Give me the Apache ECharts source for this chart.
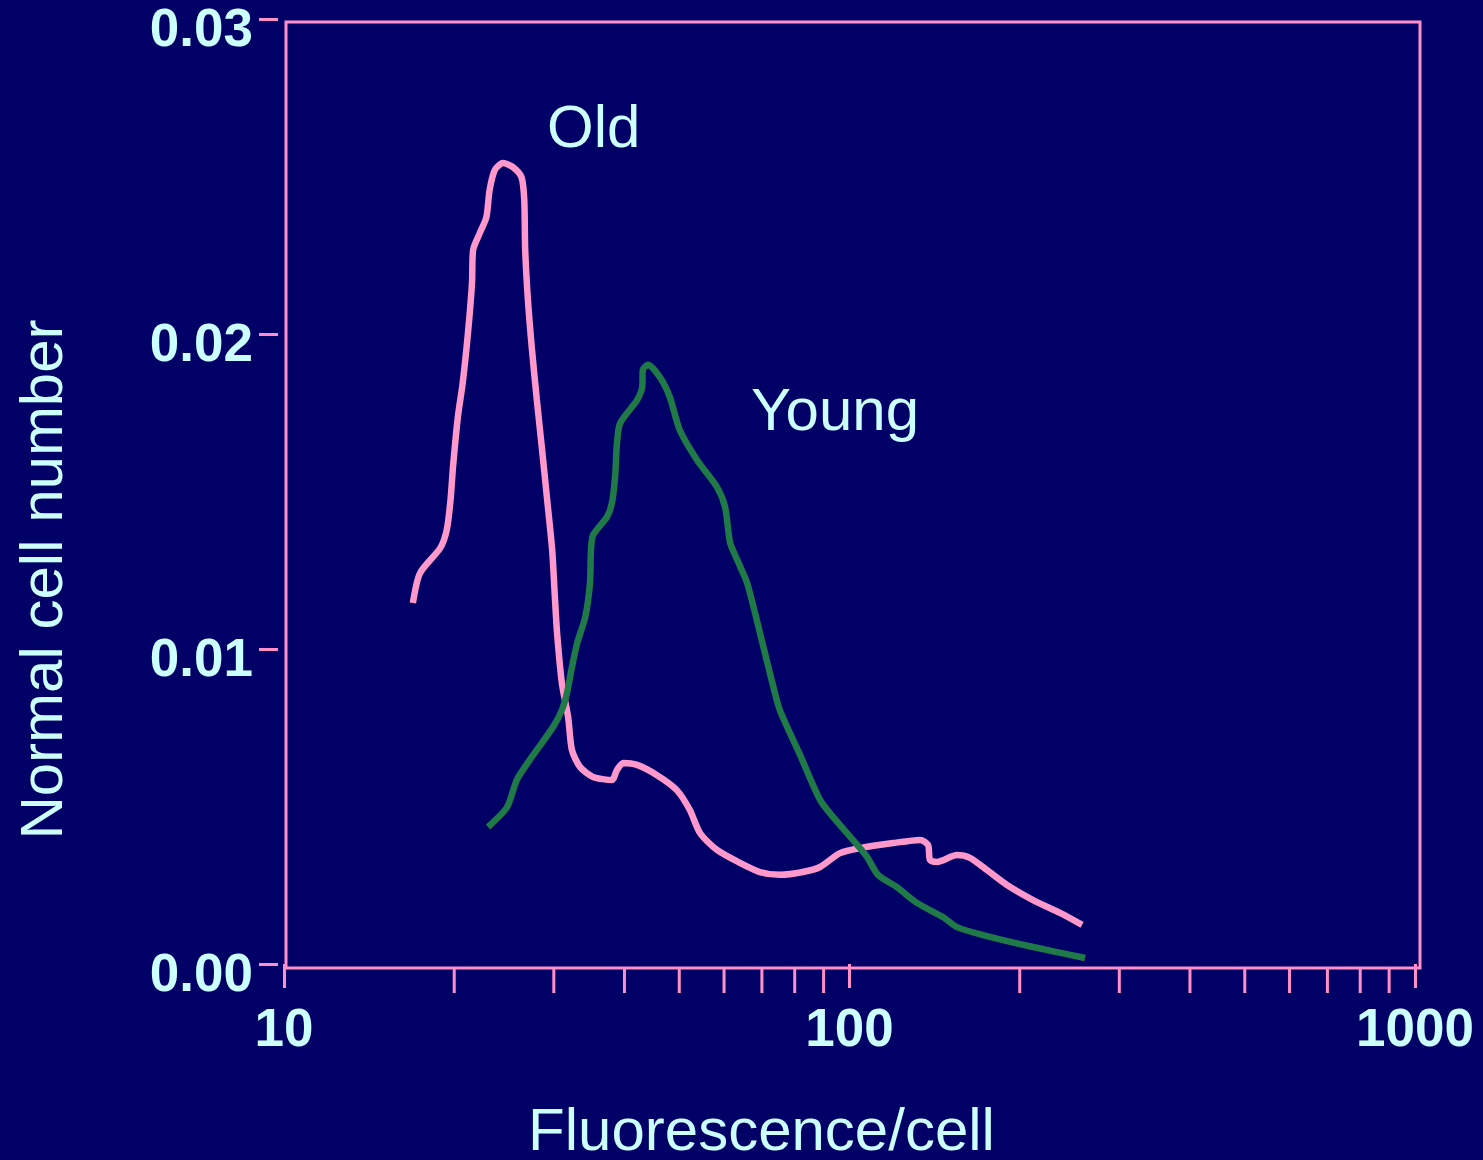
<!DOCTYPE html>
<html>
<head>
<meta charset="utf-8">
<script src="https://cdn.jsdelivr.net/npm/echarts@6/dist/echarts.min.js"></script>
<style>
  html, body { margin: 0; padding: 0; background: #000066; }
  #chart { width: 1483px; height: 1160px; }
</style>
</head>
<body>
<div id="chart"></div>
<script>
// Fluorescence/cell (log) vs normal cell number
const oldCurve = [
  [16.9, 0.01146], [17.4, 0.01241], [18.9, 0.01321], [19.4, 0.01378], [19.7, 0.01473],
  [19.9, 0.01578], [20.3, 0.01737], [20.7, 0.01844], [21.15, 0.02003], [21.5, 0.02162],
  [21.6, 0.02267], [22.2, 0.02321], [22.8, 0.02371], [23.1, 0.02457], [23.6, 0.02521],
  [24.4, 0.02543], [25.4, 0.0253], [26.3, 0.02498], [26.6, 0.02425], [26.7, 0.02267],
  [27.0, 0.02108], [27.45, 0.01949], [28.0, 0.0179], [28.6, 0.01632], [29.2, 0.01473],
  [29.8, 0.01314], [30.15, 0.01156], [30.4, 0.01051], [31.0, 0.00892], [31.8, 0.00784],
  [32.3, 0.00679], [33.4, 0.00625], [35.2, 0.00594], [38.0, 0.00584], [38.8, 0.00616],
  [39.8, 0.00638], [42.1, 0.00632], [45.6, 0.006], [49.5, 0.00552], [52.2, 0.00489],
  [54.4, 0.00416], [58.3, 0.00362], [64.0, 0.00321], [69.4, 0.00292], [75.3, 0.00283],
  [82.7, 0.00292], [88.7, 0.00308], [96.2, 0.00352], [104.4, 0.00368], [119.4, 0.00384],
  [133.3, 0.00394], [137.7, 0.00378], [138.8, 0.0033], [142.8, 0.00324], [154.9, 0.00346],
  [163.3, 0.00337], [175.1, 0.00298], [189.9, 0.00251], [211.2, 0.00203], [235.7, 0.00162],
  [257.8, 0.00124]
];
const youngCurve = [
  [22.95, 0.00435], [24.8, 0.00498], [25.8, 0.00584], [27.2, 0.00648], [29.9, 0.00752],
  [31.0, 0.00806], [31.65, 0.0086], [32.3, 0.00943], [33.0, 0.01019], [34.1, 0.01102],
  [34.76, 0.0121], [34.9, 0.01314], [35.2, 0.01362], [37.25, 0.01419], [38.0, 0.01463],
  [38.5, 0.01546], [38.8, 0.01654], [39.3, 0.01717], [42.1, 0.0179], [43.0, 0.01832],
  [43.1, 0.01886], [44.0, 0.01902], [46.2, 0.01863], [48.1, 0.018], [50.1, 0.01695],
  [53.75, 0.016], [58.3, 0.01514], [60.25, 0.01451], [61.5, 0.01337], [63.3, 0.01283],
  [65.9, 0.0121], [69.45, 0.01051], [72.3, 0.00924], [73.2, 0.00886], [75.3, 0.00806],
  [81.8, 0.00663], [88.7, 0.00521], [93.5, 0.00467], [101.4, 0.00394], [107.4, 0.0034],
  [112.3, 0.00283], [121.3, 0.00244], [131.6, 0.00194], [146.3, 0.00149], [154.9, 0.00117],
  [172.2, 0.00092], [211.2, 0.00054], [260.9, 0.00019]
];
const minorTicks = [20, 30, 40, 50, 60, 70, 80, 90, 200, 300, 400, 500, 600, 700, 800, 900];
const yTicks = [0, 0.01, 0.02, 0.03];

const bg = '#000066';
const txt = '#ccffff';
const pink = '#ff99cc';
const frame = '#ff8fc8';
const green = '#1f7a47';
const font = '"Liberation Sans", Arial, sans-serif';

const myChart = echarts.init(document.getElementById('chart'));

const option = {
  backgroundColor: bg,
  animation: false,
  grid: { left: 284, right: 68, top: 19, bottom: 196, outerBoundsMode: 'none' },
  graphic: [
    {
      // slide frame round the plot
      type: 'rect',
      shape: { x: 286, y: 22, width: 1134, height: 946 },
      style: { fill: 'transparent', stroke: frame, lineWidth: 3 },
      z: 1
    }
  ],
  xAxis: {
    type: 'log',
    logBase: 10,
    min: 10,
    max: 1000,
    offset: 5,
    axisLine: { show: false },
    axisTick: { show: true, length: 24, lineStyle: { color: frame, width: 3 } },
    splitLine: { show: false },
    axisLabel: {
      color: txt, fontFamily: font, fontWeight: 'bold', fontSize: 53, margin: 36,
      formatter: v => String(Math.round(v))
    },
    name: 'Fluorescence/cell',
    nameLocation: 'middle',
    nameGap: 134,
    nameTextStyle: { color: txt, fontFamily: font, fontSize: 60, padding: [0, 176, 0, 0] }
  },
  yAxis: {
    type: 'value',
    min: yTicks[0],
    max: yTicks[yTicks.length - 1],
    interval: 0.01,
    offset: 6,
    axisLine: { show: false },
    axisTick: { show: true, length: 19, lineStyle: { color: frame, width: 3 } },
    splitLine: { show: false },
    axisLabel: {
      color: txt, fontFamily: font, fontWeight: 'bold', fontSize: 53, margin: 25,
      verticalAlign: 'top', lineHeight: 24,
      formatter: v => v.toFixed(2)
    },
    name: 'Normal cell number',
    nameLocation: 'middle',
    nameGap: 203,
    nameTextStyle: { color: txt, fontFamily: font, fontSize: 60, padding: [0, 176, 0, 0] }
  },
  series: [
    {
      name: 'Old',
      type: 'line',
      data: oldCurve,
      smooth: 0.25,
      showSymbol: false,
      lineStyle: { color: pink, width: 6.5 },
      z: 3,
      markPoint: {
        symbol: 'circle',
        symbolSize: 0,
        label: { show: true, position: 'inside', color: txt, fontFamily: font, fontSize: 60, formatter: 'Old' },
        data: [{ coord: [35.3, 0.02646] }]
      }
    },
    {
      name: 'Young',
      type: 'line',
      data: youngCurve,
      smooth: 0.25,
      showSymbol: false,
      lineStyle: { color: green, width: 6.5 },
      z: 4,
      markPoint: {
        symbol: 'circle',
        symbolSize: 0,
        label: { show: true, position: 'inside', color: txt, fontFamily: font, fontSize: 60, formatter: 'Young' },
        data: [{ coord: [94.3, 0.01748] }]
      }
    },
    {
      // minor log ticks 20..90, 200..900 under the frame
      type: 'custom',
      silent: true,
      clip: false,
      data: minorTicks.map(v => [v, 0]),
      renderItem: function (params, api) {
        const p = api.coord([api.value(0), 0]);
        return {
          type: 'line',
          shape: { x1: p[0], y1: p[1] + 5, x2: p[0], y2: p[1] + 29 },
          style: { stroke: frame, lineWidth: 3 }
        };
      }
    }
  ]
};

myChart.setOption(option);
</script>
</body>
</html>
